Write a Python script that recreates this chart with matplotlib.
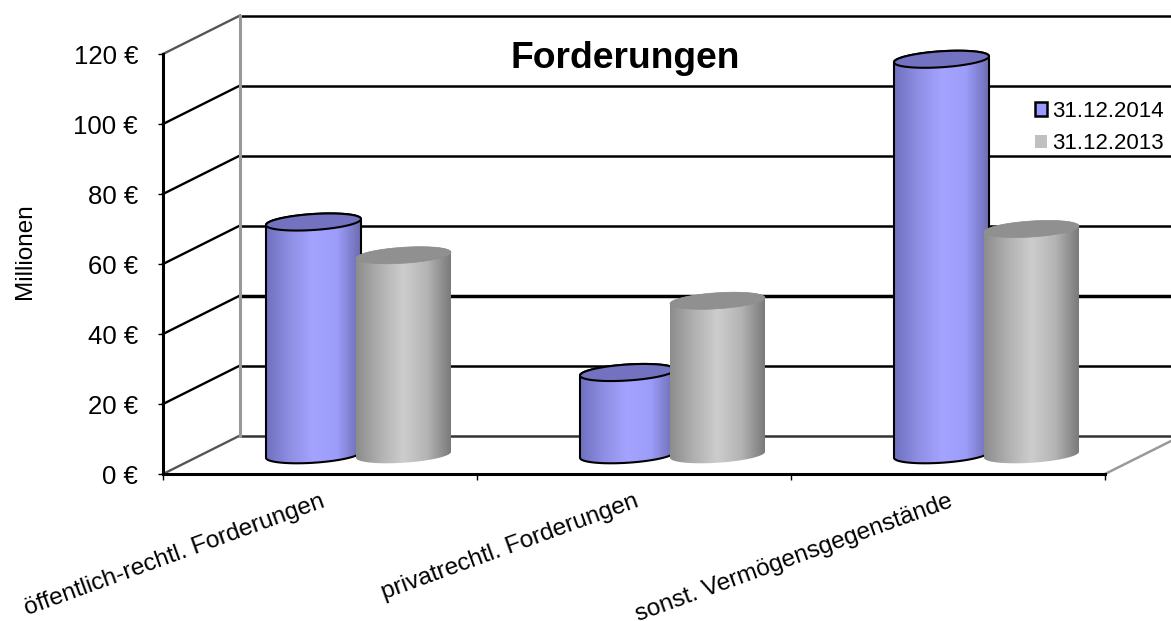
import numpy as np
import matplotlib
matplotlib.use("Agg")
import matplotlib.pyplot as plt
from matplotlib.patches import Patch, Polygon
from matplotlib.colors import LinearSegmentedColormap

categories = ["öffentlich-rechtl. Forderungen", "privatrechtl. Forderungen", "sonst. Vermögensgegenstände"]
series_names = ["31.12.2014", "31.12.2013"]
values_2014 = [66.5, 23.5, 113.0]
values_2013 = [57.0, 44.0, 64.5]
y_ticks = [0, 20, 40, 60, 80, 100, 120]
y_tick_labels = ["0 €", "20 €", "40 €", "60 €", "80 €", "100 €", "120 €"]

plt.rcParams["font.family"] = ["Liberation Sans", "DejaVu Sans"]
W, H = 1171, 621
fig = plt.figure(figsize=(W / 100, H / 100), dpi=100, facecolor="white")
L, R, T, B = 163, 1105, 54, 474
ax = fig.add_axes([L / W, 1 - B / H, (R - L) / W, (B - T) / H])
ax.set_xlim(0, 3)
ax.set_ylim(0, 120)
ax.patch.set_visible(False)

px_x = 3 / (R - L)
px_y = 120 / (B - T)
DX, DY = 77 * px_x, 38.5 * px_y
X_END = 3 + DX

# walls and grid
for v in y_ticks:
    c = "black" if 0 < v < 120 else "#555555"
    ax.plot([0, DX], [v, v + DY], color=c, lw=1.7, clip_on=False, zorder=1)
    lw = 2.5 if v == 40 else 1.8
    ax.plot([DX, X_END], [v + DY, v + DY], color="black" if v else "#333333", lw=lw, clip_on=False, zorder=1)
ax.plot([DX, DX], [DY, 120 + DY], color="#999999", lw=2.2, clip_on=False, zorder=1.2)
ax.plot([3, X_END], [0, DY], color="#999999", lw=1.8, clip_on=False, zorder=1)

cm_blue = LinearSegmentedColormap.from_list("b", ["#7070C0", "#8E8EE4", "#A4A4FF", "#9C9CFA", "#6C6CB0"])
cm_gray = LinearSegmentedColormap.from_list("g", ["#8C8C8C", "#B0B0B0", "#CDCDCD", "#B4B4B4", "#7A7A7A"])
grad = np.linspace(0, 1, 256).reshape(1, -1)


def cylinder(center, value, cmap, top_color, edge):
    a = 47.5 * px_x
    b = 8 * px_y
    slope = 3 * px_y
    cy = DY / 2
    t = np.linspace(0, 2 * np.pi, 121)
    ex = a * np.cos(t)
    ey = slope * np.cos(t) + b * np.sin(t)
    low = t[60:121]
    lx = center + a * np.cos(low)
    ly = cy + slope * np.cos(low) + b * np.sin(low)
    upper = t[0:61]
    ux = center + a * np.cos(upper)
    uy = cy + value + slope * np.cos(upper) + b * np.sin(upper)
    pts = np.vstack([np.column_stack([lx, ly]), np.column_stack([ux, uy])])
    poly = Polygon(pts, closed=True, facecolor="none", edgecolor="none", zorder=3, clip_on=False)
    ax.add_patch(poly)
    im = ax.imshow(grad, cmap=cmap, aspect="auto", zorder=3,
                   extent=(center - a, center + a, cy - 3 * b, cy + value + 3 * b),
                   interpolation="bilinear")
    im.set_clip_path(poly)
    if edge:
        ax.add_patch(Polygon(pts, closed=True, facecolor="none", edgecolor="black", lw=1.5, zorder=3, clip_on=False))
    ax.add_patch(Polygon(np.column_stack([center + ex, cy + value + ey]), closed=True, facecolor=top_color,
                         edgecolor="black" if edge else "#8F8F8F", lw=1.5 if edge else 0.5, zorder=3, clip_on=False))


half = 45 * px_x
for i in range(3):
    c = i + 0.5 + DX / 2
    cylinder(c - half, values_2014[i], cm_blue, "#7272C0", True)
    cylinder(c + half, values_2013[i], cm_gray, "#909090", False)

ax.set_xlim(0, 3)
ax.set_ylim(0, 120)

# axes
for s in ("top", "right"):
    ax.spines[s].set_visible(False)
for s in ("left", "bottom"):
    ax.spines[s].set_linewidth(2.2)
    ax.spines[s].set_zorder(2)
ax.set_yticks(y_ticks)
ax.set_yticklabels(y_tick_labels, fontsize=18.5)
ax.tick_params(axis="y", length=3.5, width=1, pad=14.5)
ax.set_xticks([0, 1, 2, 3])
ax.set_xticklabels([])
ax.tick_params(axis="x", which="major", length=4, width=1)
ax.set_xticks([0.5, 1.5, 2.5], minor=True)
ax.set_xticklabels(categories, minor=True, fontsize=17.6, rotation=20, ha="right", rotation_mode="anchor")
ax.tick_params(axis="x", which="minor", length=0, pad=12)
ax.set_ylabel("Millionen", fontsize=17.5)
ax.yaxis.set_label_coords((36 - L) / (R - L), (B - 251) / (B - T))

fig.text(625 / W, 1 - 68 / H, "Forderungen", fontsize=26.8, fontweight="bold", ha="center", va="baseline")

handles = [Patch(facecolor="#9999FF", edgecolor="black", lw=1.8), Patch(facecolor="#C0C0C0", edgecolor="none")]
fig.legend(handles, series_names, loc="upper left", bbox_to_anchor=(1035 / W, 1 - 101 / H), frameon=False,
           fontsize=16, handlelength=0.55, handleheight=0.55, handletextpad=0.2, labelspacing=0.5,
           borderpad=0, borderaxespad=0)

fig.savefig("out.png", dpi=100, facecolor="white")
